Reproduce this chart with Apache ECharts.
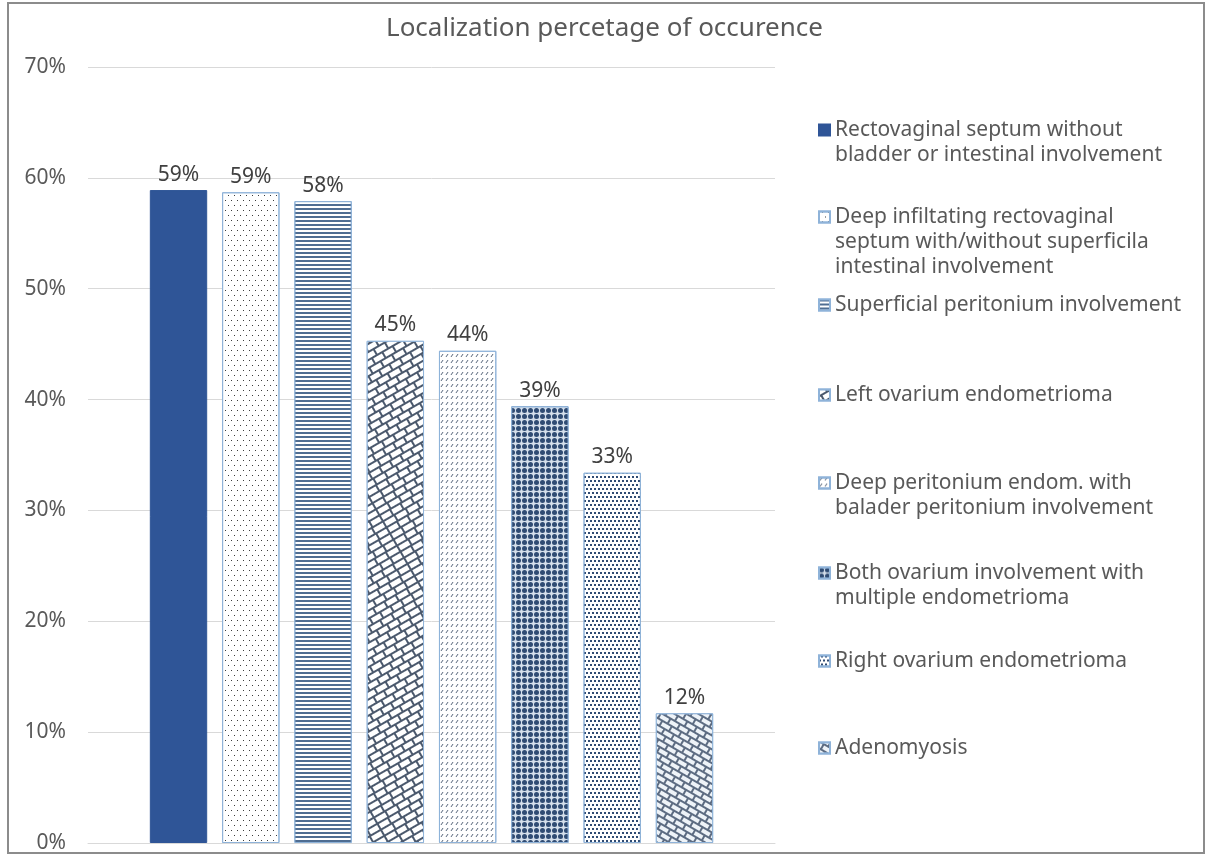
<!DOCTYPE html>
<html>
<head>
<meta charset="utf-8">
<script src="https://cdn.jsdelivr.net/npm/echarts@6/dist/echarts.min.js"></script>
<style>
    html, body {margin: 0; padding: 0; background: #fff;}
    #chart {width: 1209px; height: 854px;}
    .frame {position: absolute; left: 7px; top: 2px; width: 1194px; height: 848px; border: 2px solid #8c8c8c; pointer-events: none;}
</style>
</head>
<body>
<div id="chart"></div>
<div class="frame"></div>
<script type="text/javascript">
    // data
    const categories = [''];
    const legendLines = [
        ['Rectovaginal septum without', 'bladder or intestinal involvement'],
        ['Deep infiltating rectovaginal', 'septum with/without superficila', 'intestinal involvement'],
        ['Superficial peritonium involvement'],
        ['Left ovarium endometrioma'],
        ['Deep peritonium endom. with', 'balader peritonium involvement'],
        ['Both ovarium involvement with', 'multiple endometrioma'],
        ['Right ovarium endometrioma'],
        ['Adenomyosis']
    ];
    const values = [58.9, 58.7, 57.9, 45.3, 44.4, 39.4, 33.4, 11.7];
    const yTicks = [0, 10, 20, 30, 40, 50, 60, 70];

    // look of each bar (fill + pattern)
    const styles = [
        {color: '#2F5597', borderColor: '#2F5597', decal: null},
        {color: '#ffffff', borderColor: '#8fb3d9', decal: {symbol: 'rect', color: '#3a3a3a', symbolSize: 1,
            dashArrayX: [[1, 5], [0, 3, 1, 2]], dashArrayY: [1, 4]}},
        {color: '#ffffff', borderColor: '#8fb3d9', decal: {symbol: 'rect', color: '#4f6d92', symbolSize: 1,
            dashArrayX: [[1, 0]], dashArrayY: [1.2, 1.5]}},
        {color: '#4b596d', borderColor: '#8fb3d9', decal: {symbol: 'rect', color: '#ffffff', symbolSize: 1,
            dashArrayX: [[10, 1.2], [4.5, 1.2, 5.5, 0]], dashArrayY: [4.6, 1.1], rotation: -Math.PI / 6}},
        {color: '#ffffff', borderColor: '#8fb3d9', decal: {symbol: 'path://M0,10L3,10L10,0L7,0Z', color: '#44546a', symbolSize: 1,
            dashArrayX: [4, 1], dashArrayY: [3, 2.5]}},
        {color: '#d5dfeb', borderColor: '#8fb3d9', decal: {symbol: 'circle', color: '#2f4b73', symbolSize: 1,
            dashArrayX: [5, 0.8], dashArrayY: [5, 0.8]}},
        {color: '#ffffff', borderColor: '#8fb3d9', decal: {symbol: 'rect', color: '#2f4b73', symbolSize: 1,
            dashArrayX: [[2, 2], [0, 2, 2, 0]], dashArrayY: [2, 1.2]}},
        {color: '#5d6c82', borderColor: '#8fb3d9', decal: {symbol: 'rect', color: '#eef3f8', symbolSize: 1,
            dashArrayX: [[9, 1.2], [4, 1.2, 5, 0]], dashArrayY: [4, 1.1], rotation: Math.PI / 6}}
    ];
    const legendCenters = [130, 217, 305, 395, 483, 573, 661, 748];
    const lineH = 25;

    let myChart = echarts.init(document.getElementById('chart'), null, {renderer: 'canvas'});

    let series = values.map(function (v, i) {
        let itemStyle = {color: styles[i].color, borderColor: styles[i].borderColor, borderWidth: 1};
        if (styles[i].decal) {
            itemStyle.decal = styles[i].decal;
        }
        return {
            name: legendLines[i].join(' '),
            type: 'bar',
            data: [v],
            barGap: '26%',
            barCategoryGap: '18%',
            itemStyle: itemStyle,
            label: {
                show: true,
                position: 'top',
                distance: 5,
                fontFamily: 'Noto Sans',
                fontSize: 21,
                color: '#404040',
                formatter: function (p) {
                    return Math.round(p.value) + '%';
                }
            }
        };
    });

    // icon sits on the first line: pad the text with blank lines above
    let legends = legendLines.map(function (lines, i) {
        let n = lines.length;
        let pad = [];
        for (let k = 1; k < n; k++) {
            pad.push(' ');
        }
        return {
            data: [lines.join(' ')],
            orient: 'vertical',
            left: 818,
            top: legendCenters[i] - (2 * n - 1) * lineH / 2,
            padding: 0,
            icon: 'rect',
            itemWidth: 11,
            itemHeight: 11,
            itemGap: 0,
            selectedMode: false,
            formatter: function () {
                return pad.concat(lines).join('\n');
            },
            textStyle: {
                fontFamily: 'Noto Sans',
                fontSize: 21,
                color: '#595959',
                lineHeight: lineH
            }
        };
    });

    let option = {
        backgroundColor: '#ffffff',
        title: {
            text: 'Localization percetage of occurence',
            left: 'center',
            top: 11,
            textStyle: {fontFamily: 'Noto Sans', fontSize: 26, fontWeight: 'normal', color: '#595959'}
        },
        legend: legends,
        grid: {left: 88, right: 434, top: 67, bottom: 11},
        xAxis: {
            type: 'category',
            data: categories,
            axisLine: {lineStyle: {color: '#d9d9d9'}},
            axisTick: {show: false},
            axisLabel: {show: false}
        },
        yAxis: {
            type: 'value',
            min: yTicks[0],
            max: yTicks[yTicks.length - 1],
            interval: 10,
            axisLine: {show: false},
            axisTick: {show: false},
            splitLine: {lineStyle: {color: '#d9d9d9'}},
            axisLabel: {
                margin: 22,
                fontFamily: 'Noto Sans',
                fontSize: 21,
                color: '#595959',
                formatter: '{value}%'
            }
        },
        series: series
    };
    myChart.setOption(option);
</script>
</body>
</html>
